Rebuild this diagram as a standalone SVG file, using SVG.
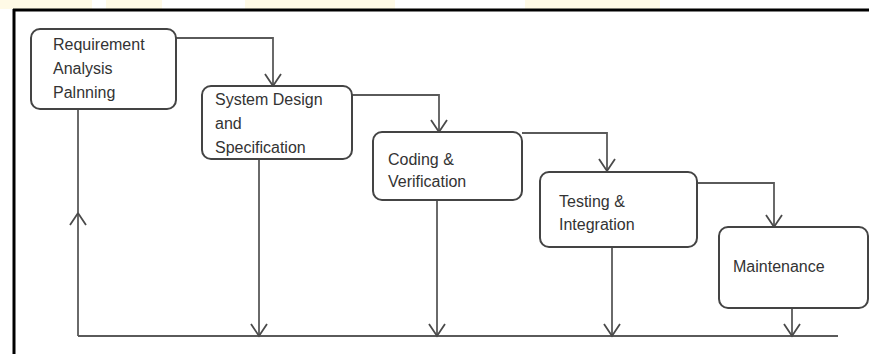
<svg xmlns="http://www.w3.org/2000/svg" width="869" height="354" viewBox="0 0 869 354">
  <defs>
    <style>
      .box { fill: #ffffff; stroke: #444444; stroke-width: 2; }
      .lbl { font-family: "Liberation Sans", Arial, sans-serif; font-size: 16px; fill: #333333; }
      .conn { fill: none; stroke: #5a5a5a; stroke-width: 1.8; }
      .wm { fill: #fffae6; }
    </style>
    <marker id="arr" viewBox="-14 -10 16 20" markerWidth="16" markerHeight="20" refX="0" refY="0" orient="auto" markerUnits="userSpaceOnUse">
      <path d="M-12,-8 L0,0 L-12,8" fill="none" stroke="#4a4a4a" stroke-width="1.8"/>
    </marker>
  </defs>
  <rect width="869" height="354" fill="#ffffff"/>
  <g id="watermark">
    <rect class="wm" x="0" y="0" width="92" height="9"/>
    <rect class="wm" x="106" y="0" width="56" height="9"/>
    <rect class="wm" x="245" y="0" width="150" height="9"/>
    <rect class="wm" x="525" y="0" width="135" height="9"/>
  </g>
  <g id="frame">
    <line x1="13" y1="10" x2="869" y2="10" stroke="#000" stroke-width="3"/>
    <line x1="14" y1="9" x2="14" y2="354" stroke="#000" stroke-width="3"/>
  </g>
  <g id="connectors">
    <path class="conn" d="M176,38 H273 V86" marker-end="url(#arr)"/>
    <path class="conn" d="M352,95 H439 V132" marker-end="url(#arr)"/>
    <path class="conn" d="M522,133 H607 V171" marker-end="url(#arr)"/>
    <path class="conn" d="M697,183 H774 V227" marker-end="url(#arr)"/>
    <path class="conn" d="M78,336 H838"/>
    <path class="conn" d="M78,336 V213" marker-end="url(#arr)"/>
    <path class="conn" d="M78,213 V109"/>
    <path class="conn" d="M259,159 V336" marker-end="url(#arr)"/>
    <path class="conn" d="M437,200 V336" marker-end="url(#arr)"/>
    <path class="conn" d="M612,247 V336" marker-end="url(#arr)"/>
    <path class="conn" d="M792,308 V336" marker-end="url(#arr)"/>
  </g>
  <g id="node-requirement">
    <rect class="box" x="31" y="29" width="145" height="80" rx="9"/>
    <text class="lbl" x="53" y="50">Requirement</text>
    <text class="lbl" x="53" y="74">Analysis</text>
    <text class="lbl" x="53" y="98">Palnning</text>
  </g>
  <g id="node-system-design">
    <rect class="box" x="202" y="86" width="150" height="73" rx="9"/>
    <text class="lbl" x="215" y="105">System Design</text>
    <text class="lbl" x="215" y="129">and</text>
    <text class="lbl" x="215" y="153">Specification</text>
  </g>
  <g id="node-coding">
    <rect class="box" x="373" y="132" width="149" height="68" rx="9"/>
    <text class="lbl" x="388" y="165">Coding &amp;</text>
    <text class="lbl" x="388" y="187">Verification</text>
  </g>
  <g id="node-testing">
    <rect class="box" x="540" y="172" width="157" height="75" rx="9"/>
    <text class="lbl" x="559" y="207">Testing &amp;</text>
    <text class="lbl" x="559" y="230">Integration</text>
  </g>
  <g id="node-maintenance">
    <rect class="box" x="719" y="227" width="149" height="81" rx="9"/>
    <text class="lbl" x="733" y="272">Maintenance</text>
  </g>
</svg>
